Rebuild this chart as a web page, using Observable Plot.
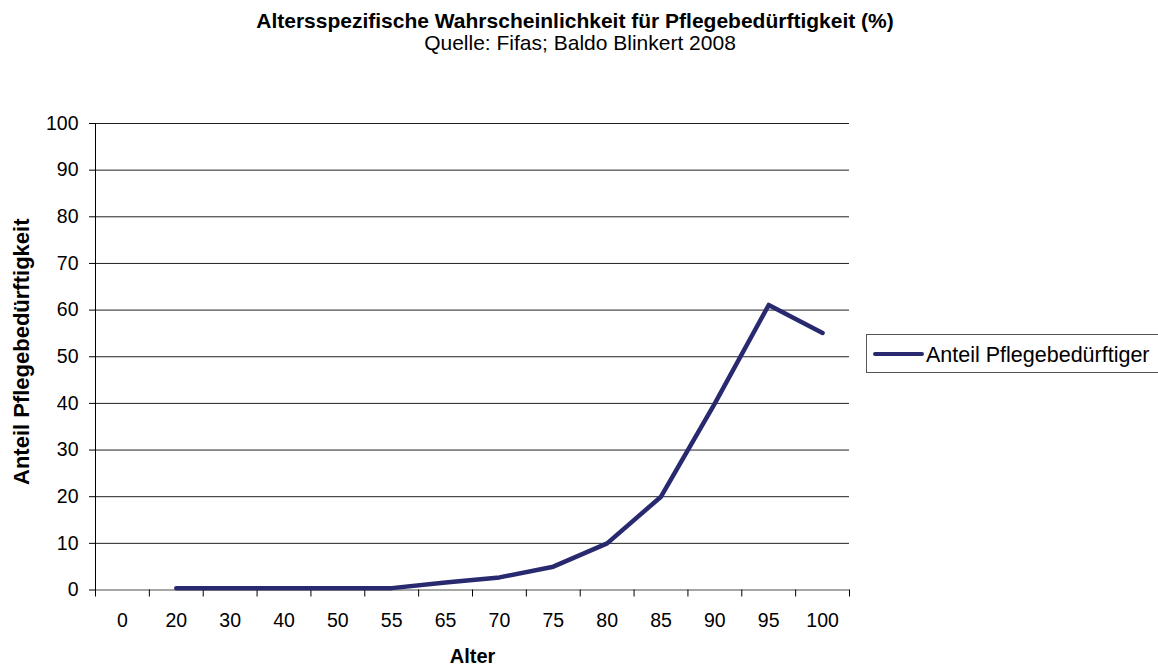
<!DOCTYPE html>
<html>
<head>
<meta charset="utf-8">
<script src="https://cdn.jsdelivr.net/npm/d3@7"></script>
<script src="https://cdn.jsdelivr.net/npm/@observablehq/plot@0.6"></script>
<style>
  html, body { margin: 0; padding: 0; background: #fff; }
  body { width: 1158px; height: 666px; overflow: hidden; position: relative; font-family: "Liberation Sans", Arial, sans-serif; }
  #header { position: relative; height: 66px; }
  #title { position: absolute; left: 0; width: 1150px; top: 8.7px; text-align: center; font-size: 21px; line-height: 24px; font-weight: bold; color: #000; }
  #subtitle { position: absolute; left: 0; width: 1160px; top: 30.7px; text-align: center; font-size: 21px; line-height: 24px; color: #000; }
  #legend { position: absolute; left: 866px; top: 334px; width: 320px; height: 37px; border: 1px solid #555; background: #fff; }
  #legend .swatch { position: absolute; left: 6px; top: 16.5px; width: 51px; height: 4.5px; border-radius: 2px; }
  #legend .label { position: absolute; left: 59px; top: 7.5px; font-size: 21.5px; line-height: 24px; color: #000; white-space: nowrap; }
  svg g[aria-label="x-axis label"] text { font-weight: bold; font-size: 20px; }
</style>
</head>
<body>
<div id="header">
  <div id="title"></div>
  <div id="subtitle"></div>
</div>
<div id="chart"></div>
<div id="legend"><span class="swatch"></span><span class="label"></span></div>
<script>
// ---- data ----
const titleText = "Altersspezifische Wahrscheinlichkeit für Pflegebedürftigkeit (%)";
const subtitleText = "Quelle: Fifas; Baldo Blinkert 2008";
const xLabel = "Alter";
const yLabel = "Anteil Pflegebedürftigkeit";
const seriesName = "Anteil Pflegebedürftiger";
const categories = ["0", "20", "30", "40", "50", "55", "65", "70", "75", "80", "85", "90", "95", "100"];
const lineAges = ["20", "30", "40", "50", "55", "65", "70", "75", "80", "85", "90", "95", "100"];
const shares = [0.4, 0.4, 0.4, 0.4, 0.4, 1.6, 2.7, 5, 10, 20, 40, 61.1, 55.1];
const yTicks = [0, 10, 20, 30, 40, 50, 60, 70, 80, 90, 100];

// ---- layout ----
const lineColor = "#28296f";
const W = 1158, H = 600;
const mL = 95, mR = 309, mT = 57, mB = 76.5;
const step = (W - mL - mR) / categories.length;

document.getElementById("title").textContent = titleText;
document.getElementById("subtitle").textContent = subtitleText;
document.querySelector("#legend .label").textContent = seriesName;
document.querySelector("#legend .swatch").style.background = lineColor;

const data = lineAges.map((a, i) => ({age: a, value: shares[i]}));

const chart = Plot.plot({
  width: W,
  height: H,
  marginLeft: mL,
  marginRight: mR,
  marginTop: mT,
  marginBottom: mB,
  style: {fontFamily: "'Liberation Sans', Arial, sans-serif", fontSize: "19.5px", color: "#000", background: "#fff"},
  x: {type: "point", domain: categories, padding: 0.5, align: 0.5, round: false},
  y: {domain: [0, 100]},
  marks: [
    Plot.gridY(yTicks.filter(d => d > 0), {stroke: "#222", strokeOpacity: 1, strokeWidth: 1}),
    Plot.ruleY([0], {stroke: "#888", strokeWidth: 1.5}),
    Plot.frame({anchor: "left", stroke: "#000"}),
    Plot.axisY({ticks: yTicks, tickSize: 6, tickPadding: 11, label: null}),
    Plot.text([yLabel], {frameAnchor: "left", rotate: -90, textAnchor: "middle", lineAnchor: "bottom", dx: -67, dy: -5, fontWeight: "bold", fontSize: 22, fill: "#000"}),
    Plot.axisX({ticks: categories, tickSize: 0, tickPadding: 23, label: xLabel, labelAnchor: "center", labelOffset: 73, labelArrow: "none"}),
    Plot.axisX({ticks: categories, tickSize: 7, tickFormat: () => "", label: null, dx: -step / 2}),
    Plot.axisX({ticks: categories.slice(-1), tickSize: 7, tickFormat: () => "", label: null, dx: step / 2}),
    Plot.line(data, {x: "age", y: "value", stroke: lineColor, strokeWidth: 4.5, strokeLinecap: "round", strokeLinejoin: "round"})
  ]
});
document.getElementById("chart").appendChild(chart);
</script>
</body>
</html>
